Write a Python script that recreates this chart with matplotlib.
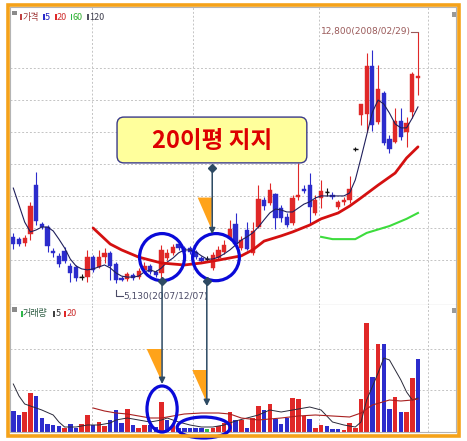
import matplotlib
matplotlib.use("Agg")
import matplotlib.pyplot as plt
from matplotlib.patches import Ellipse, Polygon, FancyBboxPatch, Rectangle, ConnectionPatch
import numpy as np

plt.rcParams['font.family'] = ['Noto Sans CJK KR', 'DejaVu Sans']

# -------------------------------
# DATA  (daily candles)
# -------------------------------
opens = [6540, 6470, 6350, 6630, 8120, 6930, 6840, 6110, 5960, 6110,
         5650, 5620, 5310, 5310, 5920, 5620, 5920, 6050, 5710, 5280,
         5250, 5380, 5310, 5530, 5650, 5470, 5440, 5890, 6050, 6320,
         6200, 6200, 6080, 5890, 5860, 5590, 5890, 6080, 6500, 6930,
         6200, 6750, 6050, 6840, 7670, 7570, 7850, 7420, 7150, 6960,
         7760, 8000, 8120, 7270, 7730, 7910, 7820, 7450, 7610, 7670,
         9230, 10260, 10290, 11760, 10050, 10940, 9530, 9440, 10080, 9740, 10360, 11390]
highs = [6660, 6540, 6600, 7610, 8520, 6990, 6900, 6200, 6050, 6230,
         5740, 5680, 5410, 6140, 5990, 6140, 6200, 6110, 5770, 5340,
         5470, 5440, 5590, 5770, 5710, 5530, 6290, 6170, 6320, 6380,
         6260, 6260, 6140, 5960, 5960, 6080, 6260, 6440, 7060, 7270,
         6570, 6990, 6990, 8120, 7760, 8190, 7880, 7510, 7270, 7820,
         8800, 8120, 8490, 7820, 8280, 8030, 7910, 7670, 7760, 8400,
         9290, 10600, 12160, 12250, 11790, 11000, 9650, 10480, 10480, 10200, 11580, 12800]
lows = [6170, 6260, 6260, 6440, 6900, 6780, 6080, 5920, 5620, 5740,
        5160, 5190, 5220, 5160, 5470, 5590, 5740, 5220, 5130, 5190,
        5190, 5220, 5250, 5470, 5410, 5310, 5220, 5830, 5990, 6140,
        6050, 6020, 5860, 5740, 5770, 5530, 5830, 6020, 6440, 6230,
        6140, 6140, 5990, 6810, 7360, 7510, 6780, 6990, 6840, 6900,
        7670, 7880, 6900, 7210, 7420, 7790, 7700, 7390, 7510, 7570,
        9160, 9960, 9740, 9780, 9990, 9350, 9100, 9410, 9500, 9290, 10170, 10880]
closes = [6320, 6320, 6500, 7480, 7020, 6840, 6260, 6050, 5710, 5800,
          5440, 5280, 5310, 5920, 5530, 5920, 6050, 5650, 5220, 5220,
          5410, 5280, 5500, 5650, 5470, 5380, 6140, 6050, 6230, 6200,
          6080, 6080, 5920, 5800, 5860, 5990, 6140, 6290, 6780, 6320,
          6440, 6170, 6720, 7700, 7480, 7970, 7120, 7120, 6900, 7730,
          7820, 7940, 7450, 7670, 7940, 7910, 7760, 7610, 7670, 8000,
          9230, 10600, 11760, 9960, 11060, 9410, 9230, 10080, 9590, 10020, 11520, 11460]

# volume, thousand shares
volume = [210, 170, 200, 390, 360, 140, 80, 70, 60, 40,
          80, 40, 80, 170, 70, 100, 60, 120, 220, 90,
          230, 70, 40, 70, 70, 50, 300, 120, 70, 40,
          40, 40, 40, 40, 30, 40, 60, 90, 200, 120,
          120, 40, 140, 260, 220, 280, 130, 80, 140, 340,
          330, 160, 130, 40, 70, 60, 30, 30, 20, 90,
          40, 330, 1090, 550, 880, 880, 230, 350, 200, 200, 540, 730]
vol_color = list("BBRRBBBBBR" "BBRRBRRBBB" "RBRRBBRBRB" "BBBBGRRRRB"
                 "RBRRBRBBBR" "RRBRRBBBRR" "RRRBRBBRBRRB")

# moving averages as drawn on the chart
ma5 = [8030, 7510, 6990, 6690, 6750, 6840, 6840, 6720, 6470, 6200,
       5860, 5650, 5560, 5530, 5560, 5620, 5680, 5590, 5440, 5340,
       5310, 5310, 5340, 5470, 5530, 5470, 5590, 5770, 5890, 6050,
       6140, 6140, 6080, 5960, 5860, 5860, 5920, 6020, 6140, 6290,
       6440, 6540, 6660, 6840, 7060, 7270, 7390, 7360, 7300, 7300,
       7420, 7540, 7610, 7730, 7790, 7790, 7790, 7790, 7790, 7880,
       8280, 8950, 9650, 10350, 10720, 10600, 10320, 9990, 9870, 9870, 10170, 10510]
ma20_idx = [15, 18, 20, 23, 27, 31, 34, 37, 41, 43, 45, 48, 50, 53, 55, 58, 60, 62, 65, 68, 70, 72]
ma20 = [6810, 6320, 6140, 5920, 5740, 5680, 5740, 5830, 5960, 6140, 6410,
        6570, 6690, 6900, 7090, 7270, 7480, 7730, 8120, 8490, 8950, 9290]
ma60_idx = [55, 57, 61, 63, 67, 70, 72]
ma60 = [6540, 6470, 6470, 6660, 6870, 7090, 7270]

vol_ma5_idx = [1, 2, 3, 4, 5, 6, 8, 9, 10, 12, 14, 16, 18, 19, 21, 23, 25, 27, 28, 30,
               32, 34, 36, 38, 40, 42, 44, 46, 48, 50, 53, 55, 57, 59, 61, 62, 63, 65,
               66, 67, 68, 69, 70, 71, 72]
vol_ma5 = [480, 360, 280, 260, 240, 220, 170, 100, 50, 50, 70, 70, 90, 120, 140, 120, 100, 120,
           140, 100, 70, 50, 50, 70, 110, 140, 170, 220, 200, 220, 250, 220, 100, 70, 50,
           100, 320, 590, 740, 720, 620, 520, 400, 320, 340]
vol_ma20_idx = [15, 17, 19, 21, 23, 25, 27, 29, 31, 34, 37, 39, 41, 44, 46, 48, 51, 54,
                57, 60, 62, 64, 67, 69, 71, 72]
vol_ma20 = [240, 210, 190, 180, 160, 140, 140, 160, 180, 190, 190, 180, 140, 120, 130, 140,
            160, 170, 160, 150, 190, 270, 320, 310, 320, 330]

month_lines = [14.8, 32.5, 54.6, 73.7]
price_grid = [5830, 6810, 7790, 8770, 9750, 10730, 11710]
vol_grid = [420, 830]

low_label = "5,130(2007/12/07)"
high_label = "12,800(2008/02/29)"
note_text = "20이평 지지"

# -------------------------------
# FIGURE
# -------------------------------
W, H = 467, 441
fig = plt.figure(figsize=(W / 100, H / 100), dpi=100)
fig.patch.set_facecolor("white")


def rect(x0, y0, x1, y1):
    # pixel box (top-left origin) -> figure fraction rect
    return [x0 / W, 1 - y1 / H, (x1 - x0) / W, (y1 - y0) / H]


def fpos(x, y):
    return x / W, 1 - y / H


ax = fig.add_axes(rect(10, 7, 456, 305))
axv = fig.add_axes(rect(10, 305, 456, 432), sharex=ax)

RED = "#e02828"
BLUE = "#2c2ccc"
GREEN = "#2fb84a"
col_map = {"R": RED, "B": BLUE, "G": GREEN}

idx = np.arange(1, len(opens) + 1)
o = np.array(opens)
c = np.array(closes)
cand_col = np.where(c > o, RED, np.where(c < o, BLUE, "#111111"))

# candles
ax.vlines(idx, lows, highs, colors=cand_col, lw=0.8, zorder=2)
ax.bar(idx, np.abs(c - o), bottom=np.minimum(o, c), width=0.74,
       color=cand_col, edgecolor=cand_col, lw=0.3, zorder=2)
doji = c == o
ax.hlines(o[doji], idx[doji] - 0.4, idx[doji] + 0.4, colors="#111111", lw=1.0, zorder=2)

# moving averages
ax.plot(idx, ma5, color="#1f1f5c", lw=0.8, zorder=3)
ax.plot(ma20_idx, ma20, color="#d41010", lw=2.0, zorder=3, solid_capstyle="round")
ax.plot(ma60_idx, ma60, color="#3ddc3d", lw=1.5, zorder=3)

# volume
axv.bar(idx, volume, width=0.78, color=[col_map[k] for k in vol_color], zorder=2)
axv.plot(vol_ma5_idx, vol_ma5, color="#2a2a3a", lw=0.7, zorder=3)
axv.plot(vol_ma20_idx, vol_ma20, color="#a82020", lw=0.8, zorder=3)

# axes styling
ax.set_xlim(0.42, 78.67)
ax.set_ylim(4457, 13564)
axv.set_ylim(0, 1270)
for a in (ax, axv):
    a.set_xticks(month_lines)
    a.tick_params(length=0, labelbottom=False, labelleft=False)
    a.grid(True, color="#c4c4c4", ls=(0, (2, 2)), lw=0.7)
    a.set_axisbelow(True)
    for s in a.spines.values():
        s.set_color("#b4b4b4")
        s.set_linewidth(0.8)
ax.set_yticks(price_grid)
axv.set_yticks(vol_grid)
ax.spines["bottom"].set_color("#7a7a7a")
axv.spines["top"].set_visible(False)

# -------------------------------
# HIGH / LOW LABELS
# -------------------------------
LINE = "#2d4a63"
ax.plot([70.85, 72], [highs[-1], highs[-1]], color="#9a5a5a", lw=0.8, zorder=4)
ax.text(70.75, highs[-1], high_label, ha="right", va="center", fontsize=6.5,
        color="#9a5a5a", family=["Liberation Sans Narrow", "DejaVu Sans"])
lo_i = int(np.argmin(lows)) + 1
ax.plot([lo_i, lo_i, lo_i + 1.2], [min(lows) - 200, 4730, 4730], color="#4a4a66", lw=0.8,
        zorder=4)
ax.text(lo_i + 1.3, 4730, low_label, ha="left", va="center", fontsize=6.5,
        color="#4a4a66", family=["Liberation Sans Narrow", "DejaVu Sans"])

# -------------------------------
# ANNOTATIONS
# -------------------------------
CIRC = "#0a0ad8"
ORANGE = "#ffa31a"

ax.add_patch(Ellipse((27.1, 5920), 7.9, 1440, fill=False, ec=CIRC, lw=2.3, zorder=6))
ax.add_patch(Ellipse((36.56, 5920), 8.2, 1440, fill=False, ec=CIRC, lw=2.3, zorder=6))
axv.add_patch(Ellipse((27.1, 230), 5.3, 460, fill=False, ec=CIRC, lw=2.3, zorder=6,
                      clip_on=False))
axv.add_patch(Ellipse((34.4, 45), 9.3, 210, fill=False, ec=CIRC, lw=2.3, zorder=6,
                      clip_on=False))

ax.add_patch(Polygon([(33.35, 7740), (35.9, 7740), (35.75, 6780)], closed=True,
                     fc=ORANGE, ec="none", zorder=5))
axv.add_patch(Polygon([(24.4, 830), (27.1, 830), (27.0, 510)], closed=True,
                      fc=ORANGE, ec="none", zorder=5))
axv.add_patch(Polygon([(32.4, 620), (35.0, 620), (34.9, 300)], closed=True,
                      fc=ORANGE, ec="none", zorder=5))

# note box
ax.add_patch(FancyBboxPatch((19.2, 8800), 33.3, 1400,
                            boxstyle="round,pad=0,rounding_size=1.2", mutation_aspect=178,
                            fc="#ffff9c", ec="#3a3a88", lw=1.0, zorder=6))
ax.text(35.85, 9480, note_text, ha="center", va="center", fontsize=17,
        fontweight="bold", color="#dd0000", zorder=7)

ax.annotate("", xy=(35.9, 6620), xytext=(35.9, 8640),
            arrowprops=dict(arrowstyle="-|>", color=LINE, lw=1.1, mutation_scale=9,
                            shrinkA=0, shrinkB=0), zorder=7)
ax.plot(35.9, 8640, marker="D", ms=4, color=LINE, zorder=8, clip_on=False)

for xi, yv in [(27.1, 480), (34.95, 260)]:
    con = ConnectionPatch(xyA=(xi, 5190), coordsA="data", axesA=ax,
                          xyB=(xi, yv), coordsB="data", axesB=axv,
                          arrowstyle="-|>", mutation_scale=9, color=LINE, lw=1.1,
                          zorder=7)
    fig.add_artist(con)
    ax.plot(xi, 5190, marker="D", ms=4, color=LINE, zorder=8, clip_on=False)

# -------------------------------
# LEGENDS (top-left of each panel)
# -------------------------------
def legend_row(y, items):
    fig.add_artist(Rectangle(fpos(12.3, y + 2), 4.4 / W, 4.4 / H, transform=fig.transFigure,
                             fc="#8a8a8a", ec="none"))
    for x, mcol, text, tcol in items:
        fig.add_artist(Rectangle(fpos(x, y + 7), 1.6 / W, 6 / H, transform=fig.transFigure,
                                 fc=mcol, ec="none"))
        fig.text(*fpos(x + 2.0, y + 4.3), text, fontsize=6.5, color=tcol, ha="left",
                 va="center")


legend_row(13, [(20.3, "#c04040", "가격", "#a03a3a"),
                (43.0, BLUE, "5", "#2020c0"),
                (55.0, RED, "20", "#d03030"),
                (70.5, GREEN, "60", "#30b030"),
                (87.0, "#505060", "120", "#404050")])
legend_row(309.5, [(21.0, GREEN, "거래량", "#2a5a40"),
                   (53.3, "#404040", "5", "#333333"),
                   (64.3, RED, "20", "#cc3030")])

# small panel icons
for y in (11.5, 308):
    fig.add_artist(Rectangle(fpos(451.5, y + 5), 4.5 / W, 5 / H, transform=fig.transFigure,
                             fc="#9a9a9a", ec="none"))

# orange frame
fig.add_artist(Rectangle(fpos(7.7, 435.5), (458.5 - 7.7) / W, (435.5 - 4.7) / H,
                         transform=fig.transFigure, fill=False, ec="#f5a21a", lw=2.6))

fig.savefig("out.png", dpi=100, facecolor="white")
